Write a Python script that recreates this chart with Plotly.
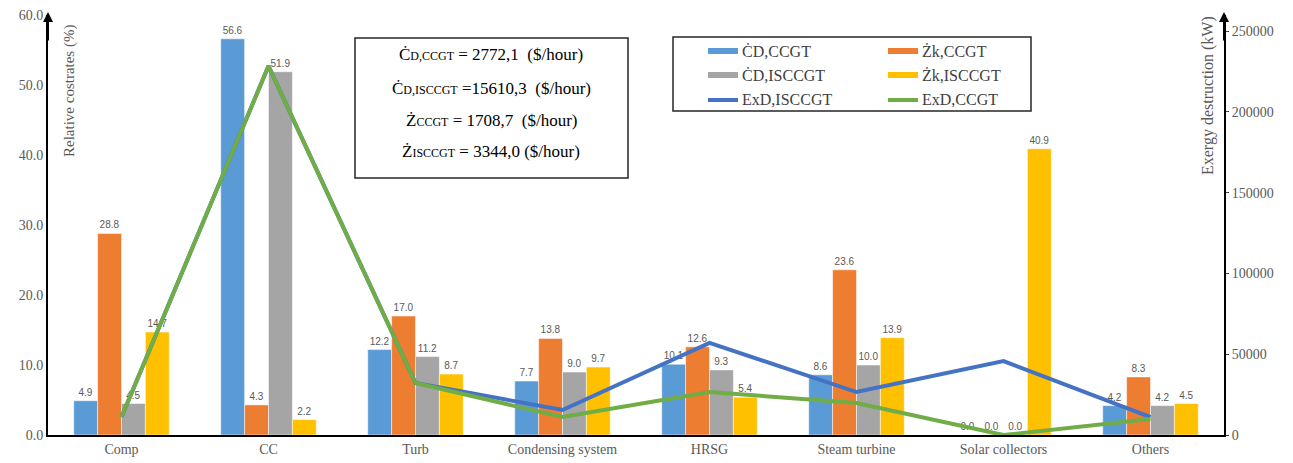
import plotly.graph_objects as go

categories = ["Comp", "CC", "Turb", "Condensing system", "HRSG", "Steam turbine", "Solar collectors", "Others"]
cd_ccgt = [4.9, 56.6, 12.2, 7.7, 10.1, 8.6, 0.0, 4.2]
zk_ccgt = [28.8, 4.3, 17.0, 13.8, 12.6, 23.6, 0.0, 8.3]
cd_isccgt = [4.5, 51.9, 11.2, 9.0, 9.3, 10.0, 0.0, 4.2]
zk_isccgt = [14.7, 2.2, 8.7, 9.7, 5.4, 13.9, 40.9, 4.5]
exd_isccgt = [11100, 228400, 32200, 15500, 57000, 26600, 45800, 11100]
exd_ccgt = [11100, 228400, 32200, 11100, 26600, 19800, 0, 9900]
left_ticks = [0, 10, 20, 30, 40, 50, 60]
right_ticks = [0, 50000, 100000, 150000, 200000, 250000]

box_lines = [
    "Ċ<span style='font-size:12px'>D,CCGT</span> = 2772,1  ($/hour)",
    "Ċ<span style='font-size:12px'>D,ISCCGT</span> =15610,3  ($/hour)",
    "Ż<span style='font-size:12px'>CCGT</span> = 1708,7  ($/hour)",
    "Ż<span style='font-size:12px'>ISCCGT</span> = 3344,0 ($/hour)",
]

C_BLUE = "#5B9BD5"; C_ORANGE = "#ED7D31"; C_GRAY = "#A5A5A5"; C_YEL = "#FFC000"
C_LBLUE = "#4472C4"; C_GREEN = "#70AD47"
SERIF = "Liberation Serif"
TXT = "#595959"

# page body has an 8px margin: figure is placed at (8, 8) in the window
OFF = 8
WIN_W, WIN_H = 1293, 463
W, H = WIN_W - OFF, WIN_H - OFF
# plot area in window (screen) coordinates
SX0, SX1, SYT, SYB = 48, 1224, 15, 435
X0, X1, YT, YB = SX0 - OFF, SX1 - OFF, SYT - OFF, SYB - OFF
def px(x): return (x - SX0) / (SX1 - SX0)
def py(y): return (SYB - y) / (SYB - SYT)

fig = go.Figure()
bar_series = [("ĊD,CCGT", cd_ccgt, C_BLUE), ("Żk,CCGT", zk_ccgt, C_ORANGE),
              ("ĊD,ISCCGT", cd_isccgt, C_GRAY), ("Żk,ISCCGT", zk_isccgt, C_YEL)]
for name, vals, col in bar_series:
    fig.add_trace(go.Bar(x=categories, y=vals, name=name, marker=dict(color=col, line=dict(color="white", width=0.5)),
                         text=[f"{v:.1f}" for v in vals], textposition="outside", cliponaxis=False,
                         textfont=dict(family="Liberation Sans", size=10, color=TXT), showlegend=False))
fig.add_trace(go.Scatter(x=categories, y=exd_isccgt, name="ExD,ISCCGT", mode="lines", yaxis="y2",
                         line=dict(color=C_LBLUE, width=4), showlegend=False))
fig.add_trace(go.Scatter(x=categories, y=exd_ccgt, name="ExD,CCGT", mode="lines", yaxis="y2",
                         line=dict(color=C_GREEN, width=4), showlegend=False))

fig.update_layout(
    width=W, height=H, margin=dict(l=X0, r=W - X1, t=YT, b=H - YB, autoexpand=False),
    paper_bgcolor="white", plot_bgcolor="white",
    barmode="group", bargap=0.35, bargroupgap=0, showlegend=False,
    xaxis=dict(showline=True, linecolor="black", linewidth=2, ticks="", showgrid=False, automargin=False,
               ticklabeloverflow="allow", tickfont=dict(family=SERIF, size=14, color=TXT)),
    yaxis=dict(range=[0, 60], tickvals=left_ticks, tickformat=".1f", showgrid=False, zeroline=False,
               showline=True, linecolor="black", linewidth=2, ticks="", automargin=False,
               ticklabeloverflow="allow", tickfont=dict(family=SERIF, size=14, color=TXT)),
    yaxis2=dict(range=[0, 260000], tickvals=right_ticks, tickformat="d", overlaying="y", side="right",
                showgrid=False, automargin=False, ticklabeloverflow="allow",
                zeroline=False, showline=True, linecolor="black", linewidth=2, ticks="outside", ticklen=3,
                tickcolor="#404040", tickfont=dict(family=SERIF, size=14, color=TXT)),
)

shapes = []
ann = []
for xa in (SX0, SX1):
    ann.append(dict(xref="paper", yref="paper", x=px(xa), y=py(12), ax=0, ay=30, text="", showarrow=True,
                    arrowhead=2, arrowsize=1, arrowwidth=2, arrowcolor="black"))
ann.append(dict(xref="paper", yref="paper", x=px(69), y=py(91), xanchor="center", yanchor="middle",
                text="Relative costrates (%)", textangle=-90,
                showarrow=False, font=dict(family=SERIF, size=15, color=TXT)))
ann.append(dict(xref="paper", yref="paper", x=px(1208), y=py(96), xanchor="center", yanchor="middle",
                text="Exergy destruction (kW)", textangle=-90,
                showarrow=False, font=dict(family=SERIF, size=16, color=TXT)))
shapes.append(dict(type="rect", xref="paper", yref="paper", x0=px(355), x1=px(628), y0=py(178), y1=py(38),
                   line=dict(color="#262626", width=1.5), fillcolor="white", layer="above"))
for t, yy in zip(box_lines, [54, 88, 120, 152]):
    ann.append(dict(xref="paper", yref="paper", x=px(491), y=py(yy), xanchor="center", yanchor="middle",
                    text=t, showarrow=False, font=dict(family=SERIF, size=17, color="black")))
shapes.append(dict(type="rect", xref="paper", yref="paper", x0=px(673), x1=px(1031), y0=py(111), y1=py(37),
                   line=dict(color="#262626", width=1.5), fillcolor="white", layer="above"))
legend_items = [("ĊD,CCGT", C_BLUE, 6, 708, 51), ("Żk,CCGT", C_ORANGE, 6, 888, 51),
                ("ĊD,ISCCGT", C_GRAY, 6, 708, 75), ("Żk,ISCCGT", C_YEL, 6, 888, 75),
                ("ExD,ISCCGT", C_LBLUE, 4, 708, 100), ("ExD,CCGT", C_GREEN, 4, 888, 100)]
for name, col, w, lx, ly in legend_items:
    shapes.append(dict(type="line", xref="paper", yref="paper", x0=px(lx), x1=px(lx + 30), y0=py(ly), y1=py(ly),
                       line=dict(color=col, width=w), layer="above"))
    ann.append(dict(xref="paper", yref="paper", x=px(lx + 32), y=py(ly), xanchor="left", yanchor="middle",
                    text=name, showarrow=False, font=dict(family=SERIF, size=16, color="#404040")))
fig.update_layout(shapes=shapes, annotations=ann)
fig.write_html("out.html")
